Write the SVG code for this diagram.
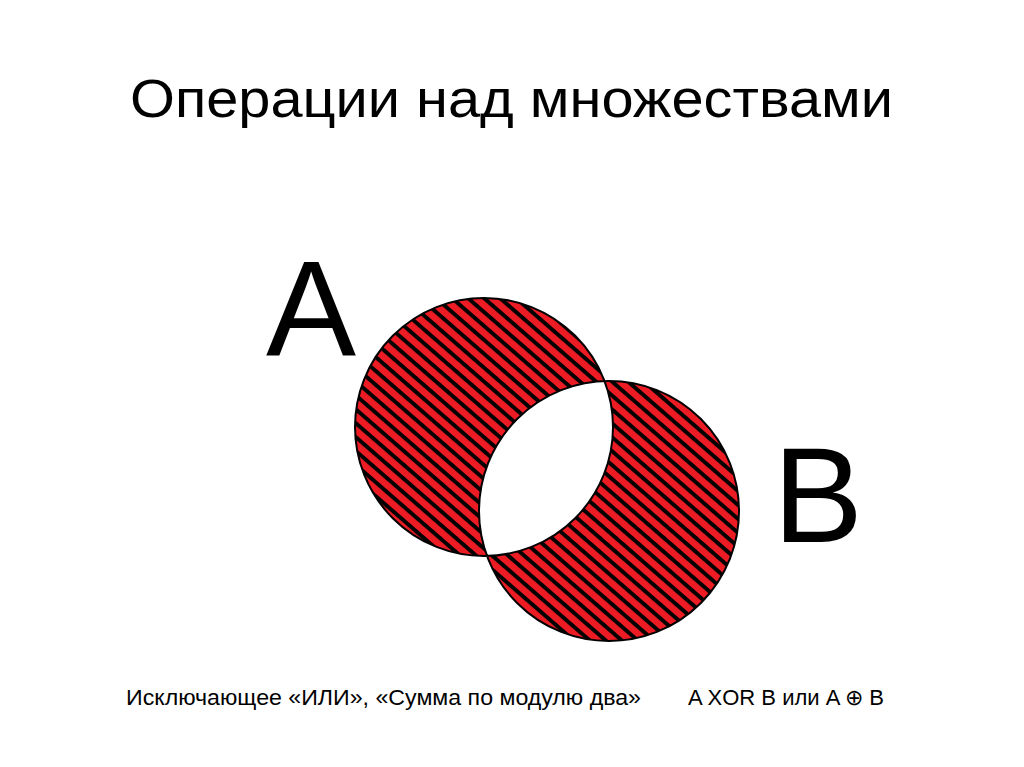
<svg xmlns="http://www.w3.org/2000/svg" width="1024" height="767" viewBox="0 0 1024 767">
  <style>
    .t { font-family: "Liberation Sans", Arial, sans-serif; fill: #000; }
    .big { font-family: "Liberation Sans", Arial, sans-serif; font-size: 135px; fill: #000; }
  </style>
  <defs>
    <pattern id="hatch" patternUnits="userSpaceOnUse" width="20" height="10.5" patternTransform="rotate(41)">
      <rect x="0" y="0" width="20" height="10.5" fill="#ED1C24"/>
      <rect x="0" y="0" width="20" height="3.9" fill="#000"/>
    </pattern>
  </defs>
  <rect x="0" y="0" width="1024" height="767" fill="#fff"/>
  <g id="title">
    <text class="t" x="130" y="117" font-size="54" textLength="763" lengthAdjust="spacingAndGlyphs">Операции над множествами</text>
  </g>
  <g id="venn">
    <path d="M355,427 a129,129 0 1,0 258,0 a129,129 0 1,0 -258,0 Z M479,511 a130,130 0 1,0 260,0 a130,130 0 1,0 -260,0 Z" fill="url(#hatch)" fill-rule="evenodd" stroke="#000" stroke-width="2"/>
  </g>
  <g id="labelA">
    <text class="big" x="266" y="355">A</text>
  </g>
  <g id="labelB">
    <text class="big" x="773" y="542">B</text>
  </g>
  <g id="caption">
    <text class="t" x="126" y="705" font-size="22" textLength="515" lengthAdjust="spacingAndGlyphs">Исключающее «ИЛИ», «Сумма по модулю два»</text>
    <text class="t" x="688" y="705" font-size="22" textLength="196" lengthAdjust="spacingAndGlyphs">A XOR B или A ⊕ B</text>
  </g>
</svg>
